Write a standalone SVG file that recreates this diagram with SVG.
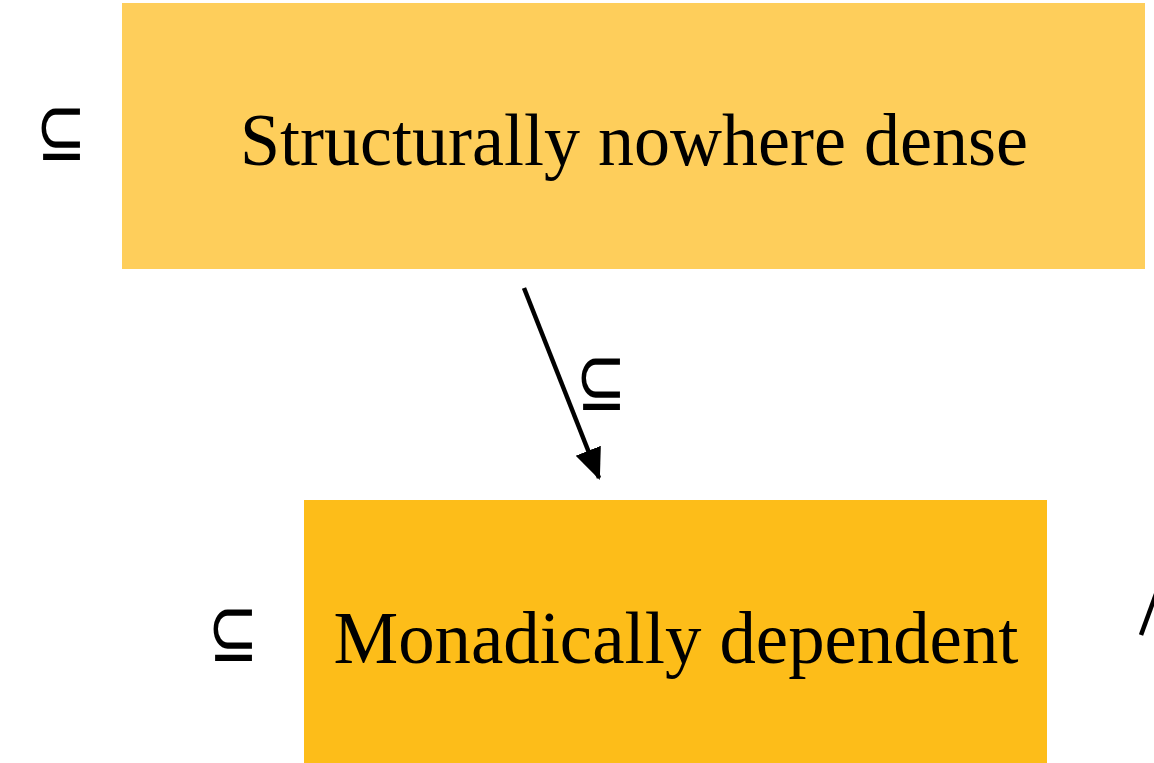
<svg xmlns="http://www.w3.org/2000/svg" width="1154" height="763" viewBox="0 0 1154 763">
<style>
.lbl{font-family:"Liberation Serif",serif;font-size:73px;fill:#000;text-anchor:middle}
.sub{font-family:"DejaVu Sans",sans-serif;font-size:60px;font-weight:300;fill:#000;text-anchor:middle}
.edge{stroke:#000;stroke-width:4.5;fill:none}
</style>
<defs>
<marker id="ah" markerWidth="8" markerHeight="8" refX="6.5" refY="4" orient="auto" markerUnits="strokeWidth">
<path d="M0,1 L7,4 L0,7 z" fill="#000"/>
</marker>
</defs>
<rect width="1154" height="763" fill="#fff"/>
<g id="node-snd">
<rect x="122" y="3" width="1023" height="266" fill="#FECE5B"/>
<text class="lbl" x="634" y="165" textLength="788" lengthAdjust="spacingAndGlyphs">Structurally nowhere dense</text>
</g>
<g id="node-md">
<rect x="304" y="500" width="743" height="270" fill="#FDBD19"/>
<text class="lbl" x="676" y="663" textLength="685" lengthAdjust="spacingAndGlyphs">Monadically dependent</text>
</g>
<g id="edges">
<line class="edge" x1="524" y1="288" x2="599" y2="478" marker-end="url(#ah)"/>
<line class="edge" x1="1141" y1="635" x2="1156" y2="594"/>
</g>
<g id="labels">
<text class="sub" transform="translate(61,160) scale(1,1.4)">⊆</text>
<text class="sub" transform="translate(601,410) scale(1,1.4)">⊆</text>
<text class="sub" transform="translate(233,661) scale(1,1.4)">⊆</text>
</g>
</svg>
